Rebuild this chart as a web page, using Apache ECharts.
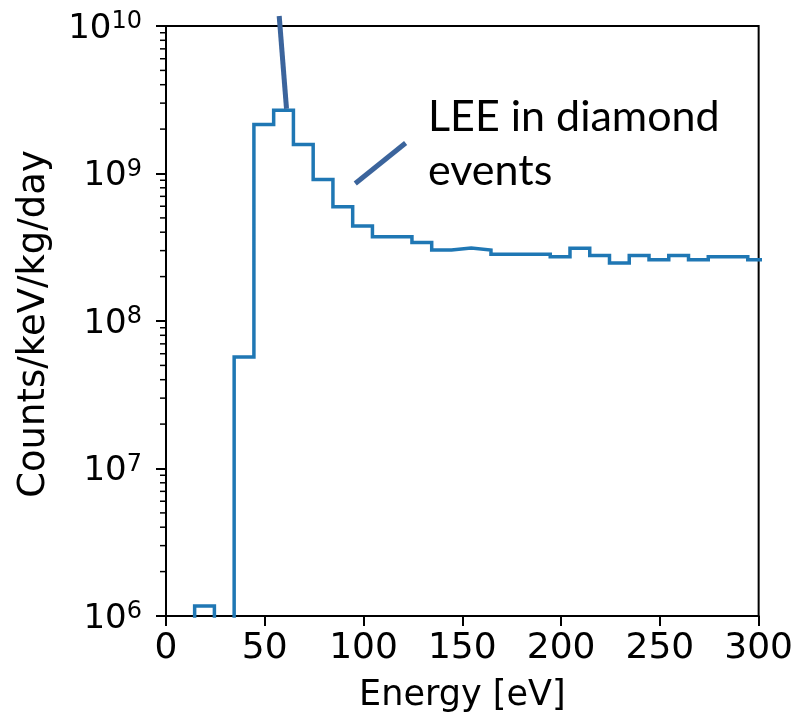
<!DOCTYPE html>
<html>
<head>
<meta charset="utf-8">
<script src="https://cdn.jsdelivr.net/npm/echarts@6/dist/echarts.min.js"></script>
<style>
  html, body { margin: 0; padding: 0; background: #fff; }
  #chart { width: 796px; height: 718px; }
</style>
</head>
<body>
<div id="chart"></div>
<script>
// ---- data ----
// histogram bin edges [eV]
const binEdges = [4.5, 14.5, 24.5, 34.5, 44.5, 54.5, 64.5, 74.5, 84.5, 94.5,
                  104.5, 114.5, 124.5, 134.5, 144.5, 154.5, 164.5, 174.5, 184.5, 194.5,
                  204.5, 214.5, 224.5, 234.5, 244.5, 254.5, 264.5, 274.5, 284.5, 294.5, 304.5];
// counts/keV/kg/day in each bin (0 = empty bin)
const counts = [0, 1.17e6, 0, 5.7e7, 2.15e9, 2.68e9, 1.57e9, 9.1e8, 5.95e8, 4.4e8,
                3.73e8, 3.73e8, 3.4e8, 3.03e8, 3.12e8, 3.03e8, 2.84e8, 2.84e8, 2.84e8, 2.73e8,
                3.11e8, 2.78e8, 2.47e8, 2.78e8, 2.6e8, 2.78e8, 2.6e8, 2.73e8, 2.73e8, 2.6e8];
// x tick values
const xTicks = [0, 50, 100, 150, 200, 250, 300];
// y decades (exponents)
const yDecades = [6, 7, 8, 9, 10];
// annotation pointer lines (data coordinates)
const pointerA = [[57.3, 1.17e10], [61.0, 2.75e9]];
const pointerB = [[95.8, 8.55e8], [121.3, 1.61e9]];
const annotationText = 'LEE in diamond\nevents';

// ---- build ----
const EMPTY = 1e3; // empty bins fall below the axis and are clipped (like log(0))
const stepPts = [[binEdges[0], EMPTY]];
counts.forEach((c, i) => {
  const v = c > 0 ? c : EMPTY;
  stepPts.push([binEdges[i], v]);
  stepPts.push([binEdges[i + 1], v]);
});
const minorVals = [];
for (let d = yDecades[0]; d < yDecades[yDecades.length - 1]; d++) {
  for (let k = 2; k <= 9; k++) minorVals.push([xTicks[0], k * Math.pow(10, d)]);
}

const FONT = 'DejaVu Sans';
const chart = echarts.init(document.getElementById('chart'), null, { renderer: 'canvas' });
chart.setOption({
  animation: false,
  backgroundColor: '#fff',
  grid: { left: 166, right: 31, top: 26, bottom: 100, show: true, borderColor: '#000', borderWidth: 2, backgroundColor: 'transparent' },
  xAxis: {
    type: 'value', min: xTicks[0], max: xTicks[xTicks.length - 1], interval: 50,
    name: 'Energy [eV]', nameLocation: 'middle', nameGap: 62,
    nameTextStyle: { fontFamily: FONT, fontSize: 35, color: '#000' },
    axisLine: { show: true, lineStyle: { color: '#000', width: 2 } },
    axisTick: { show: true, inside: false, length: 10, lineStyle: { color: '#000', width: 2 } },
    axisLabel: { fontFamily: FONT, fontSize: 36, color: '#000', margin: 15 },
    splitLine: { show: false }
  },
  yAxis: {
    type: 'log', logBase: 10, min: Math.pow(10, yDecades[0]), max: Math.pow(10, yDecades[yDecades.length - 1]),
    name: 'Counts/keV/kg/day', nameLocation: 'middle', nameGap: 113, nameRotate: 90,
    nameTextStyle: { fontFamily: FONT, fontSize: 37, color: '#000', padding: [0, 6, 0, 0] },
    axisLine: { show: true, lineStyle: { color: '#000', width: 2 } },
    axisTick: { show: true, inside: false, length: 10, lineStyle: { color: '#000', width: 2 } },
    axisLabel: {
      margin: 24, padding: [4, 0, 0, 0],
      formatter: v => '{b|10}{s|' + Math.round(Math.log10(v)) + '}',
      rich: {
        b: { fontFamily: FONT, fontSize: 34, color: '#000', lineHeight: 36, verticalAlign: 'bottom' },
        s: { fontFamily: FONT, fontSize: 24, color: '#000', lineHeight: 36, verticalAlign: 'top' }
      }
    },
    splitLine: { show: false }
  },
  graphic: [{
    type: 'text', left: 428, top: 90, z: 100,
    style: { text: annotationText, font: '43px Lato', fill: '#000', lineHeight: 54 }
  }],
  series: [
    {
      type: 'line', data: stepPts, symbol: 'none', clip: true, silent: true,
      lineStyle: { color: '#1f77b4', width: 3.5, join: 'miter' }, z: 3
    },
    {
      type: 'custom', data: minorVals, silent: true, clip: false, z: 4,
      renderItem: (params, api) => {
        const p = api.coord([api.value(0), api.value(1)]);
        return { type: 'line', shape: { x1: p[0] - 6, y1: p[1], x2: p[0], y2: p[1] },
                 style: { stroke: '#000', lineWidth: 1.5 } };
      }
    },
    {
      type: 'line', data: pointerA, symbol: 'none', clip: false, silent: true, z: 10,
      lineStyle: { color: '#3b649c', width: 5, cap: 'butt' }
    },
    {
      type: 'line', data: pointerB, symbol: 'none', clip: false, silent: true, z: 10,
      lineStyle: { color: '#3b649c', width: 5, cap: 'butt' }
    }
  ]
});
</script>
</body>
</html>
